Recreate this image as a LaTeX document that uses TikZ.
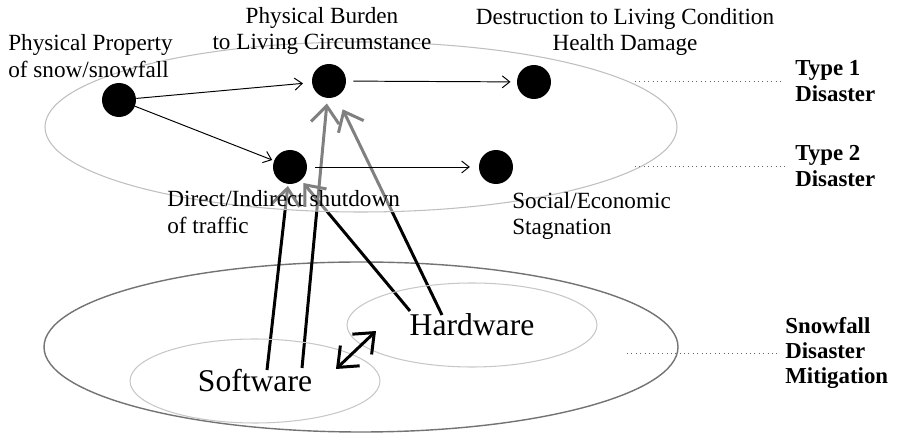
\documentclass[tikz,border=0pt]{standalone}
\usepackage{fontspec}
\setmainfont{Liberation Serif}
\usetikzlibrary{arrows.meta,shapes.geometric}
\pgfdeclarelayer{back}
\pgfdeclarelayer{veil}
\pgfsetlayers{back,veil,main}

\begin{document}
\begin{tikzpicture}[
  x=0.02cm, y=-0.02cm,
  dot/.style={circle, fill=black, minimum size=6.8mm, inner sep=0},
  lbl/.style={font=\fontsize{13.2}{15}\selectfont, align=center, inner sep=0},
  tag/.style={font=\fontsize{13}{14.5}\selectfont\bfseries, align=left, inner sep=0},
  part/.style={ellipse, draw=black!22, line width=0.6pt, minimum width=5cm, minimum height=1.68cm, font=\fontsize{18}{20}\selectfont},
  thin/.style={-{Straight Barb[length=1.5mm,width=2.4mm]}, line width=0.55pt},
  barb/.tip={Straight Barb[length=3.4mm,width=5.6mm]},
  heavy/.style={-barb, line width=1.7pt},
  leader/.style={dotted, draw=black!60, line width=0.5pt}
]
\useasboundingbox (0,0) rectangle (897,435);
\node[dot] (prop) at (119,100) {};
\node[dot] (burden) at (329,81) {};
\node[dot] (destr) at (534,82) {};
\node[dot] (shut) at (290,167) {};
\node[dot] (stag) at (496,167) {};
\node[lbl, anchor=west, align=left] (propt) at (8,56) {Physical Property\\of snow/snowfall};
\node[lbl] (burdent) at (322,31) {Physical Burden\\to Living Circumstance};
\node[lbl] (destrt) at (625,32) {Destruction to Living Condition\\Health Damage};
\node[lbl, anchor=west, align=left] (shutt) at (167,212) {Direct/Indirect shutdown\\of traffic};
\node[lbl, anchor=west, align=left] (stagt) at (512,216) {Social/Economic\\Stagnation};
\node[tag, anchor=west] (type1) at (795,81) {Type 1\\Disaster};
\node[tag, anchor=west] (type2) at (795,166) {Type 2\\Disaster};
\node[tag, anchor=west] (mitig) at (785,353) {Snowfall\\Disaster\\Mitigation};
\node[part] (soft) at (255,381) {Software};
\node[part] (hard) at (472,325) {Hardware};
\coordinate (sw1) at (267,370);
\coordinate (sw2) at (302,368);
\coordinate (hw1) at (410,311);
\coordinate (hw2) at (442,315);
\coordinate (swr) at (336,369);
\coordinate (hwl) at (376,331);
\coordinate (lead1) at (635,81);
\coordinate (lead2) at (635,166);
\coordinate (lead3) at (627,353);
\begin{pgfonlayer}{back}
\draw[draw=black!55, line width=0.8pt] (361,347) ellipse [x radius=317, y radius=85];
\draw[heavy, shorten >=1pt] (sw1) -- (shut);
\draw[heavy, shorten >=3pt] (sw2) -- (burden);
\draw[heavy, shorten >=2pt] (hw1) -- (shut);
\draw[heavy, shorten >=8pt] (hw2) -- (burden);
\end{pgfonlayer}
\begin{pgfonlayer}{veil}
\fill[white, opacity=0.5] (361,127) ellipse [x radius=316, y radius=85];
\draw[black!25, line width=0.6pt] (361,127) ellipse [x radius=316, y radius=85];
\end{pgfonlayer}
\draw[thin, shorten >=5pt] (prop) -- (burden);
\draw[thin, shorten >=1pt] (prop) -- (shut);
\draw[thin, shorten <=4pt, shorten >=3.5pt] (burden) -- (destr);
\draw[thin, shorten <=4.5pt, shorten >=5pt] (shut) -- (stag);
\draw[heavy, barb-barb] (swr) -- (hwl);
\draw[leader] (lead1) -- ([xshift=-8.5pt]type1.west |- lead1);
\draw[leader] (lead2) -- ([xshift=-4.5pt]type2.west |- lead2);
\draw[leader] (lead3) -- ([xshift=-4pt]mitig.west |- lead3);
\end{tikzpicture}
\end{document}
